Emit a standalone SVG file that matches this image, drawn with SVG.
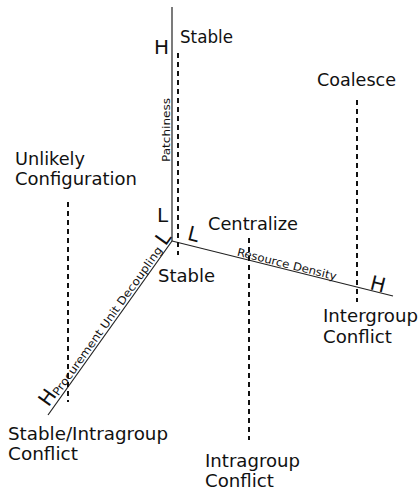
<svg xmlns="http://www.w3.org/2000/svg" width="419" height="492" viewBox="0 0 419 492">
<style>
.axis{stroke:#222;stroke-width:1.2;fill:none}
.dash{stroke:#111;stroke-width:2;stroke-dasharray:5 4;fill:none}
.lbl{font-family:"DejaVu Sans","Liberation Sans",sans-serif;font-size:17.5px;fill:#111}
.ax{font-family:"DejaVu Sans","Liberation Sans",sans-serif;font-size:11px;fill:#111}
.hl{font-family:"DejaVu Sans","Liberation Sans",sans-serif;font-size:20px;fill:#111}
</style>
<rect width="419" height="492" fill="#fff"/>
<g id="connectors">
  <line class="axis" x1="172" y1="7" x2="172" y2="241"/>
  <line class="axis" x1="172" y1="241" x2="393" y2="296"/>
  <line class="axis" x1="172" y1="241" x2="48" y2="415"/>
  <line class="dash" x1="178" y1="53" x2="178" y2="255"/>
  <line class="dash" x1="357" y1="100" x2="357" y2="302"/>
  <line class="dash" x1="249" y1="238" x2="249" y2="440"/>
  <line class="dash" x1="68" y1="202" x2="68" y2="402"/>
</g>
<g id="axis-patchiness">
  <text class="ax" transform="translate(170,162) rotate(-90)" textLength="64" lengthAdjust="spacingAndGlyphs">Patchiness</text>
  <text class="hl" x="154" y="54" font-size="22">H</text>
  <text class="hl" x="157" y="222">L</text>
</g>
<g id="axis-resource">
  <text class="ax" transform="translate(236.4,255.5) rotate(14)" textLength="102" lengthAdjust="spacingAndGlyphs">Resource Density</text>
  <text class="hl" transform="translate(186.5,239.5) rotate(14)">L</text>
  <text class="hl" transform="translate(369,289) rotate(14)">H</text>
</g>
<g id="axis-procurement">
  <text class="ax" transform="translate(58.2,396.5) rotate(-54.5)" textLength="180" lengthAdjust="spacingAndGlyphs">Procurement Unit Decoupling</text>
  <text class="hl" transform="translate(48.5,407.5) rotate(-54.5)">H</text>
  <text class="hl" transform="translate(165.5,246.5) rotate(-54.5)">L</text>
</g>
<g id="node-stable-top">
  <text class="lbl" x="180" y="43" textLength="53" lengthAdjust="spacingAndGlyphs">Stable</text>
</g>
<g id="node-coalesce">
  <text class="lbl" x="317" y="86" textLength="79" lengthAdjust="spacingAndGlyphs">Coalesce</text>
</g>
<g id="node-unlikely">
  <text class="lbl" x="15" y="165" textLength="70" lengthAdjust="spacingAndGlyphs">Unlikely</text>
  <text class="lbl" x="15" y="185" textLength="122" lengthAdjust="spacingAndGlyphs">Configuration</text>
</g>
<g id="node-centralize">
  <text class="lbl" x="208" y="230" textLength="90" lengthAdjust="spacingAndGlyphs">Centralize</text>
</g>
<g id="node-stable-bottom">
  <text class="lbl" x="158" y="282" textLength="57" lengthAdjust="spacingAndGlyphs">Stable</text>
</g>
<g id="node-intergroup">
  <text class="lbl" x="323" y="322" textLength="95" lengthAdjust="spacingAndGlyphs">Intergroup</text>
  <text class="lbl" x="323" y="343" textLength="69" lengthAdjust="spacingAndGlyphs">Conflict</text>
</g>
<g id="node-stable-intragroup">
  <text class="lbl" x="8" y="440" textLength="160" lengthAdjust="spacingAndGlyphs">Stable/Intragroup</text>
  <text class="lbl" x="8" y="460" textLength="70" lengthAdjust="spacingAndGlyphs">Conflict</text>
</g>
<g id="node-intragroup">
  <text class="lbl" x="205" y="467" textLength="95" lengthAdjust="spacingAndGlyphs">Intragroup</text>
  <text class="lbl" x="205" y="487" textLength="69" lengthAdjust="spacingAndGlyphs">Conflict</text>
</g>
</svg>
